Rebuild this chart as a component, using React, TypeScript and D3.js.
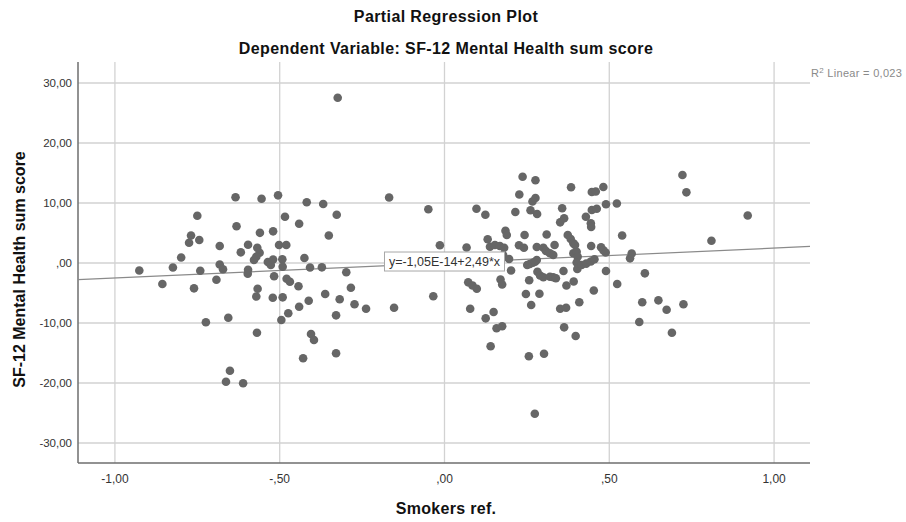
import React from "react";
import * as d3 from "d3";

// Partial regression residuals: smoking status (x) vs SF-12 mental health (y)
const xValues: number[] = [
  -0.926, -0.856, -0.824, -0.799, -0.775, -0.769, -0.75, -0.744, -0.76, -0.741,
  -0.724, -0.692, -0.682, -0.682, -0.672, -0.656, -0.651, -0.663, -0.611, -0.634,
  -0.631, -0.618, -0.596, -0.596, -0.597, -0.568, -0.561, -0.571, -0.578, -0.555,
  -0.56, -0.567, -0.571, -0.569, -0.536, -0.527, -0.52, -0.52, -0.505, -0.502,
  -0.517, -0.521, -0.492, -0.491, -0.48, -0.484, -0.491, -0.495, -0.479, -0.469,
  -0.474, -0.443, -0.441, -0.441, -0.429, -0.425, -0.418, -0.412, -0.408, -0.405,
  -0.396, -0.372, -0.368, -0.362, -0.351, -0.327, -0.324, -0.329, -0.329, -0.318,
  -0.298, -0.284, -0.273, -0.238, -0.168, -0.153, -0.049, -0.034, -0.014,
  0.067, 0.072, 0.085, 0.098, 0.078, 0.097, 0.124, 0.125, 0.131, 0.138,
  0.14, 0.149, 0.153, 0.158, 0.163, 0.168, 0.17, 0.175, 0.175, 0.178,
  0.181, 0.185, 0.189, 0.196, 0.202, 0.215, 0.227, 0.226, 0.237, 0.241,
  0.243, 0.247, 0.251, 0.257, 0.256, 0.259, 0.261, 0.263, 0.267, 0.268,
  0.274, 0.276, 0.276, 0.275, 0.28, 0.28, 0.281, 0.282, 0.288, 0.29,
  0.3, 0.3, 0.302, 0.308, 0.31, 0.32, 0.32, 0.33, 0.33, 0.334,
  0.338, 0.351, 0.351, 0.357, 0.361, 0.363, 0.363, 0.369, 0.37, 0.374,
  0.383, 0.384, 0.391, 0.392, 0.391, 0.396, 0.401, 0.404, 0.401, 0.403,
  0.398, 0.409, 0.416, 0.43, 0.429, 0.444, 0.445, 0.445, 0.444, 0.447,
  0.447, 0.462, 0.453, 0.455, 0.459, 0.475, 0.482, 0.482, 0.489, 0.49,
  0.49, 0.523, 0.524, 0.539, 0.563, 0.568, 0.591, 0.6, 0.608, 0.649,
  0.674, 0.69, 0.722, 0.725, 0.734, 0.81, 0.92,
];

const yValues: number[] = [
  -1.25, -3.5, -0.75, 0.92, 3.38, 4.58, 7.88, 3.83, -4.22, -1.3,
  -9.88, -2.8, 2.83, -0.25, -1.05, -9.12, -17.95, -19.78, -20.05, 10.95,
  6.12, 1.78, 3.05, -1.12, -1.78, 2.55, 1.72, 1.05, 0.5, 10.7,
  5.03, -4.3, -5.58, -11.62, 0.17, -0.33, 0.58, 5.28, 11.28, 3.0,
  -2.2, -5.78, 0.62, -0.62, 3.0, 7.7, -5.72, -9.5, -2.63, -3.12,
  -8.38, -3.88, 6.55, -7.28, -15.88, 0.83, 10.13, -6.28, -0.75, -11.83,
  -12.83, -0.72, 9.83, -5.17, 4.58, 8.05, 27.55, -8.72, -15.05, -6.05,
  -1.53, -4.12, -6.87, -7.63, 10.92, -7.45, 8.97, -5.55, 2.97,
  2.58, -3.22, -3.75, -4.3, -7.62, 9.05, 8.05, -9.22, 3.95, 2.72,
  -13.88, -8.17, 3.0, -10.88, 1.05, 2.83, -2.75, -3.58, -10.55, 1.33,
  2.55, 5.38, 4.67, 0.67, -1.25, 8.5, 11.42, 2.95, 14.37, 2.55,
  4.67, -5.17, -0.33, -2.87, -15.55, -0.17, 8.8, -7.0, 10.25, 0.05,
  -25.12, 10.83, 13.8, 0.22, 0.5, 2.67, 8.17, -1.45, -5.12, -2.08,
  2.55, -2.38, -15.12, 2.0, 4.75, 1.62, -2.28, 1.33, -2.38, 3.0,
  -2.55, 6.78, -7.62, 9.12, -1.33, 7.45, -10.72, -7.45, -3.75, 4.67,
  4.0, 12.63, 3.28, -3.08, 1.62, 3.0, 1.88, 1.05, 0.08, -1.0,
  -12.17, -6.55, -0.33, -0.1, 7.72, 6.62, 6.0, 2.83, 0.25, 11.83,
  8.83, 9.05, -4.58, 0.62, 11.92, 2.62, 12.67, 2.12, 1.75, 9.8,
  -1.33, 9.92, -3.5, 4.58, 0.78, 1.58, -9.83, -6.55, -1.72, -6.22,
  -7.78, -11.62, 14.67, -6.88, 11.78, 3.7, 7.92,
];

const xTicks: number[] = [-1, -0.5, 0, 0.5, 1];
const xTickLabels: string[] = ["-1,00", "-,50", ",00", ",50", "1,00"];
const yTicks: number[] = [30, 20, 10, 0, -10, -20, -30];
const yTickLabels: string[] = ["30,00", "20,00", "10,00", ",00", "-10,00", "-20,00", "-30,00"];

const intercept = -1.05e-14;
const slope = 2.49;
const equationLabel = "y=-1,05E-14+2,49*x";
const rSquaredValue = "0,023";

const W = 906;
const H = 522;
const plot = { left: 78, right: 810, top: 62, bottom: 463 };
const font = "Arial, 'Liberation Sans', sans-serif";

export default function App() {
  const x = d3.scaleLinear().domain([-1.112, 1.109]).range([plot.left, plot.right]);
  const y = d3.scaleLinear().domain([-33.33, 33.5]).range([plot.bottom, plot.top]);
  const [x0, x1] = x.domain();
  const fit = (v: number) => intercept + slope * v;
  const fitLine = d3.line<number>().x((v) => x(v)).y((v) => y(fit(v)))([x0, x1]) || "";
  const points = xValues.map((v, i) => ({ x: v, y: yValues[i] }));

  const boxW = 120;
  const boxH = 19;
  const boxCx = x(0);
  const boxCy = y(fit(0)) - 1.5;

  return (
    <svg
      width={W}
      height={H}
      style={{ position: "absolute", left: 0, top: 0, background: "#fff" }}
      fontFamily={font}
    >
      <rect x={0} y={0} width={W} height={H} fill="#fff" />
      <text x={446} y={22} textAnchor="middle" fontSize={16} letterSpacing={0.4} fontWeight="bold" fill="#111">
        Partial Regression Plot
      </text>
      <text x={446} y={54} textAnchor="middle" fontSize={16} letterSpacing={0.4} fontWeight="bold" fill="#111">
        Dependent Variable: SF-12 Mental Health sum score
      </text>

      {/* grid */}
      {yTicks.map((t) => (
        <line key={"gy" + t} x1={plot.left} x2={plot.right} y1={y(t)} y2={y(t)} stroke="#d2d2d2" strokeWidth={1.3} />
      ))}
      {xTicks.map((t) => (
        <line key={"gx" + t} x1={x(t)} x2={x(t)} y1={plot.top} y2={plot.bottom} stroke="#d2d2d2" strokeWidth={1.3} />
      ))}

      {/* axes */}
      <line x1={plot.left} x2={plot.left} y1={plot.top} y2={plot.bottom} stroke="#6e6e6e" strokeWidth={1.5} />
      <line x1={plot.left} x2={plot.right} y1={plot.bottom} y2={plot.bottom} stroke="#6e6e6e" strokeWidth={1.5} />

      {yTicks.map((t, i) => (
        <text key={"ly" + t} x={72} y={y(t) + 4} textAnchor="end" fontSize={11.5} fill="#333">
          {yTickLabels[i]}
        </text>
      ))}
      {xTicks.map((t, i) => (
        <text key={"lx" + t} x={x(t)} y={483} textAnchor="middle" fontSize={12} fill="#333">
          {xTickLabels[i]}
        </text>
      ))}

      {/* fit line */}
      <path d={fitLine} stroke="#8a8a8a" strokeWidth={1.2} fill="none" />

      {/* points */}
      {points.map((p, i) => (
        <circle key={i} cx={x(p.x)} cy={y(p.y)} r={4.3} fill="#666666" />
      ))}

      {/* equation label */}
      <rect
        x={boxCx - boxW / 2}
        y={boxCy - boxH / 2}
        width={boxW}
        height={boxH}
        fill="#fff"
        stroke="#a8a8a8"
        strokeWidth={1}
      />
      <text x={boxCx} y={boxCy + 4.5} textAnchor="middle" fontSize={12.5} fill="#333">
        {equationLabel}
      </text>

      {/* R squared */}
      <text x={811} y={77} fontSize={11} letterSpacing={0.3} fill="#8a8a8a">
        R<tspan dy={-4} fontSize={8}>2</tspan>
        <tspan dy={4}>{" Linear = " + rSquaredValue}</tspan>
      </text>

      <text
        transform={`translate(25, ${(plot.top + plot.bottom) / 2 + 7}) rotate(-90)`}
        textAnchor="middle"
        fontSize={16}
        fontWeight="bold"
        fill="#111"
      >
        SF-12 Mental Health sum score
      </text>
      <text x={446} y={514} textAnchor="middle" fontSize={16} letterSpacing={0.3} fontWeight="bold" fill="#111">
        Smokers ref.
      </text>
    </svg>
  );
}
